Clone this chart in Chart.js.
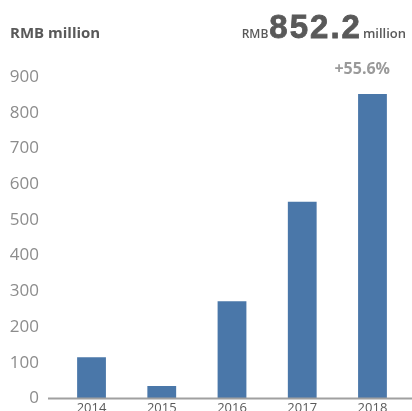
<!DOCTYPE html>
<html>
<head>
<meta charset="utf-8">
<script src="https://cdn.jsdelivr.net/npm/chart.js@4"></script>
<style>
html,body{margin:0;padding:0;overflow:hidden;background:#fff;width:412px;height:411px;}
canvas{display:block;}
</style>
</head>
<body>
<canvas id="c" width="412" height="426"></canvas>
<script>
const categories = ["2014", "2015", "2016", "2017", "2018"];
const revenue = [115, 35, 272, 551, 852.2];
const yTicks = [0, 100, 200, 300, 400, 500, 600, 700, 800, 900];
const unitLabel = "RMB million";
const headlinePrefix = "RMB";
const headlineValue = "852.2";
const headlineSuffix = "million";
const growthLabel = "+55.6%";

const headerPlugin = {
  id: 'header',
  afterDraw(chart) {
    const ctx = chart.ctx;
    ctx.save();
    ctx.textBaseline = 'alphabetic';
    ctx.fillStyle = '#595959';
    ctx.font = 'bold 15px "Open Sans"';
    ctx.textAlign = 'left';
    ctx.fillText(unitLabel, 10, 37.5);

    const fBig = 'bold 33px "Liberation Sans"';
    const fPre = '600 12px "Open Sans"';
    const fSuf = '600 13px "Open Sans"';
    ctx.font = fSuf; const wSuf = ctx.measureText(headlineSuffix).width;
    let x = 406 - wSuf;
    ctx.fillText(headlineSuffix, x, 37.5);
    ctx.font = fBig;
    ctx.letterSpacing = '2px';
    const wBig = ctx.measureText(headlineValue).width;
    x -= wBig + 1;
    ctx.strokeStyle = '#595959';
    ctx.lineWidth = 0.8;
    ctx.fillText(headlineValue, x, 37.5);
    ctx.strokeText(headlineValue, x, 37.5);
    ctx.letterSpacing = '0px';
    ctx.font = fPre; const wPre = ctx.measureText(headlinePrefix).width;
    x -= wPre + 1;
    ctx.fillText(headlinePrefix, x, 37.5);

    ctx.fillStyle = '#9a9a9a';
    ctx.font = 'bold 16px "Open Sans"';
    ctx.textAlign = 'right';
    ctx.fillText(growthLabel, 390, 73.5);

    const y0 = chart.scales.y.getPixelForValue(0);
    ctx.strokeStyle = '#a0a0a0';
    ctx.lineWidth = 2;
    ctx.beginPath();
    ctx.moveTo(48, y0);
    ctx.lineTo(412, y0);
    ctx.stroke();
    ctx.restore();
  }
};

new Chart(document.getElementById('c'), {
  type: 'bar',
  data: {
    labels: categories,
    datasets: [{
      data: revenue,
      backgroundColor: '#4a77a9',
      categoryPercentage: 1,
      barPercentage: 0.41
    }]
  },
  options: {
    responsive: false,
    animation: false,
    devicePixelRatio: 1,
    layout: { padding: { left: 10, right: 4.4, top: 77, bottom: 0 } },
    plugins: { legend: { display: false }, tooltip: { enabled: false } },
    scales: {
      x: {
        grid: { display: false, drawTicks: false },
        border: { display: false },
        afterFit(axis) { axis.height = 23.5; },
        ticks: { color: '#595959', font: { family: '"Open Sans"', size: 13 }, padding: 2 }
      },
      y: {
        min: 0, max: 900,
        afterBuildTicks(axis) { axis.ticks = yTicks.map(v => ({ value: v })); },
        afterFit(axis) { axis.width = 46.4; },
        grid: { display: false, drawTicks: false },
        border: { display: false },
        ticks: { color: '#8c8c8c', font: { family: '"Open Sans"', size: 17 }, padding: 17.4 }
      }
    }
  },
  plugins: [headerPlugin]
});
</script>
</body>
</html>
